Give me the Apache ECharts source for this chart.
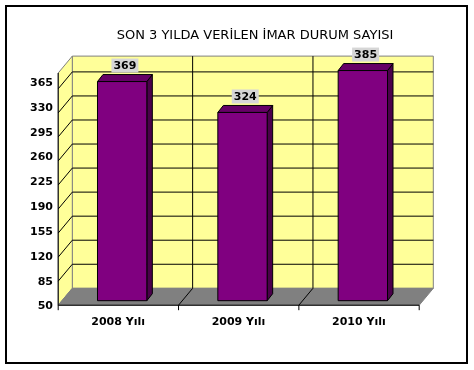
<!DOCTYPE html>
<html>
<head>
<meta charset="utf-8">
<script src="https://cdn.jsdelivr.net/npm/echarts@6/dist/echarts.min.js"></script>
<style>
html,body{margin:0;padding:0;background:#fff;}
#chart{width:474px;height:370px;}
</style>
</head>
<body>
<div id="chart"></div>
<script>
// ---- data ----
const titleText = 'SON 3 YILDA VERİLEN İMAR DURUM SAYISI';
const categories = ['2008 Yılı', '2009 Yılı', '2010 Yılı'];
const values = [369, 324, 385];
const yMin = 50;
const yMax = 388;
const yInterval = 35;
const yTicks = [50, 85, 120, 155, 190, 225, 260, 295, 330, 365];

// ---- styling (pixel offsets for the pseudo-3D look) ----
const BACK = [10.3, -12.4];
const FRONT = [-3.8, 4.5];
const BAR_D = [5.5, -7];
const FONT = 'DejaVu Sans';

function renderBackdrop(params, api) {
  const band = api.size([1, 0])[0];
  const n = categories.length;
  const base = api.coord([0, yMin]);
  const y0 = base[1];
  const yTop = api.coord([0, yMax])[1];
  const xL = base[0] - band / 2;
  const xR = api.coord([n - 1, yMin])[0] + band / 2;
  const B = (x, y) => [x + BACK[0], y + BACK[1]];
  const F = (x, y) => [x + FRONT[0], y + FRONT[1]];
  const line = (p, q, color, w) => ({
    type: 'line', shape: {x1: p[0], y1: p[1], x2: q[0], y2: q[1]},
    style: {stroke: color, lineWidth: w || 1}
  });
  const ch = [];
  ch.push({type: 'polygon', shape: {points: [B(xL, yTop), B(xR, yTop), B(xR, y0), B(xL, y0)]},
    style: {fill: '#FFFF99', stroke: '#808080', lineWidth: 1}});
  ch.push({type: 'polygon', shape: {points: [F(xL, y0), B(xL, y0), B(xL, yTop), F(xL, yTop)]},
    style: {fill: '#FFFF99', stroke: '#808080', lineWidth: 1}});
  ch.push({type: 'polygon', shape: {points: [F(xL, y0), F(xR, y0), B(xR, y0), B(xL, y0)]},
    style: {fill: '#808080', stroke: '#808080', lineWidth: 1}});
  yTicks.forEach(v => {
    if (v === yMin) return;
    const y = api.coord([0, v])[1];
    ch.push(line(B(xL, y), B(xR, y), '#000', 1));
    ch.push(line(F(xL, y), B(xL, y), '#000', 1));
  });
  for (let k = 1; k < n; k++) {
    const x = xL + k * band;
    ch.push(line(B(x, y0), B(x, yTop), '#000', 1));
    ch.push(line(F(x, y0), B(x, y0), '#000', 1));
  }
  ch.push(line(F(xL, y0), F(xR, y0), '#000', 1));
  ch.push(line(F(xL, y0), F(xL, yTop), '#000', 1));
  for (let k = 0; k <= n; k++) {
    const p = F(xL + k * band, y0);
    ch.push(line(p, [p[0], p[1] + 5], '#000', 1));
  }
  return {type: 'group', children: ch};
}

function renderBar(params, api) {
  const idx = api.value(0);
  const v = api.value(1);
  const top = api.coord([idx, v]);
  const bot = api.coord([idx, yMin]);
  const w = api.size([1, 0])[0] * 0.41;
  const x = top[0] - w / 2;
  const yt = top[1];
  const yb = bot[1];
  const dx = BAR_D[0], dy = BAR_D[1];
  return {
    type: 'group',
    children: [
      {type: 'polygon', shape: {points: [[x + w, yt], [x + w + dx, yt + dy], [x + w + dx, yb + dy], [x + w, yb]]},
        style: {fill: '#4B004B', stroke: '#000', lineWidth: 1}},
      {type: 'polygon', shape: {points: [[x, yt], [x + dx, yt + dy], [x + w + dx, yt + dy], [x + w, yt]]},
        style: {fill: '#660066', stroke: '#000', lineWidth: 1}},
      {type: 'rect', shape: {x: x, y: yt, width: w, height: yb - yt},
        style: {fill: '#800080', stroke: '#000', lineWidth: 1}},
      {type: 'text', x: top[0] + dx / 2, y: yt + dy - 2,
        style: {text: String(v), font: 'bold 11px "' + FONT + '"', fill: '#000',
          align: 'center', verticalAlign: 'bottom',
          backgroundColor: '#D6D6D6', padding: [2, 2, 1, 2]}}
    ]
  };
}

const chart = echarts.init(document.getElementById('chart'), null, {renderer: 'canvas'});
chart.setOption({
  animation: false,
  backgroundColor: '#fff',
  title: {
    text: titleText, left: 250, top: 24, textAlign: 'center',
    textStyle: {fontFamily: FONT, fontSize: 13, fontWeight: 'normal', color: '#000'}
  },
  graphic: [{
    type: 'rect', silent: true, z: 100,
    shape: {x: 6, y: 6, width: 461, height: 357},
    style: {fill: 'none', stroke: '#000', lineWidth: 2}
  }],
  grid: [
    {left: 62, width: 361, top: 68.5, height: 232.2},
    {left: 58, width: 361, top: 66.9, height: 239.6}
  ],
  xAxis: [
    {gridIndex: 0, type: 'category', data: categories, show: false},
    {gridIndex: 1, type: 'category', data: categories,
      axisLine: {show: false}, axisTick: {show: false}, splitLine: {show: false},
      axisLabel: {margin: 10, fontFamily: FONT, fontSize: 11, fontWeight: 'bold', color: '#000'}}
  ],
  yAxis: [
    {gridIndex: 0, type: 'value', min: yMin, max: yMax, interval: yInterval, show: false},
    {gridIndex: 1, type: 'value', min: yMin, max: yMax, interval: yInterval,
      axisLine: {show: false}, axisTick: {show: false}, splitLine: {show: false},
      axisLabel: {margin: 5, fontFamily: FONT, fontSize: 11, fontWeight: 'bold', color: '#000',
        formatter: v => (yTicks.indexOf(v) >= 0 ? String(v) : '')}}
  ],
  series: [
    {type: 'custom', xAxisIndex: 0, yAxisIndex: 0, clip: false, z: 1,
      renderItem: renderBackdrop, data: [[0, yMin]], silent: true},
    {type: 'custom', xAxisIndex: 0, yAxisIndex: 0, clip: false, z: 2,
      renderItem: renderBar, data: values.map((v, i) => [i, v])}
  ]
});
</script>
</body>
</html>
